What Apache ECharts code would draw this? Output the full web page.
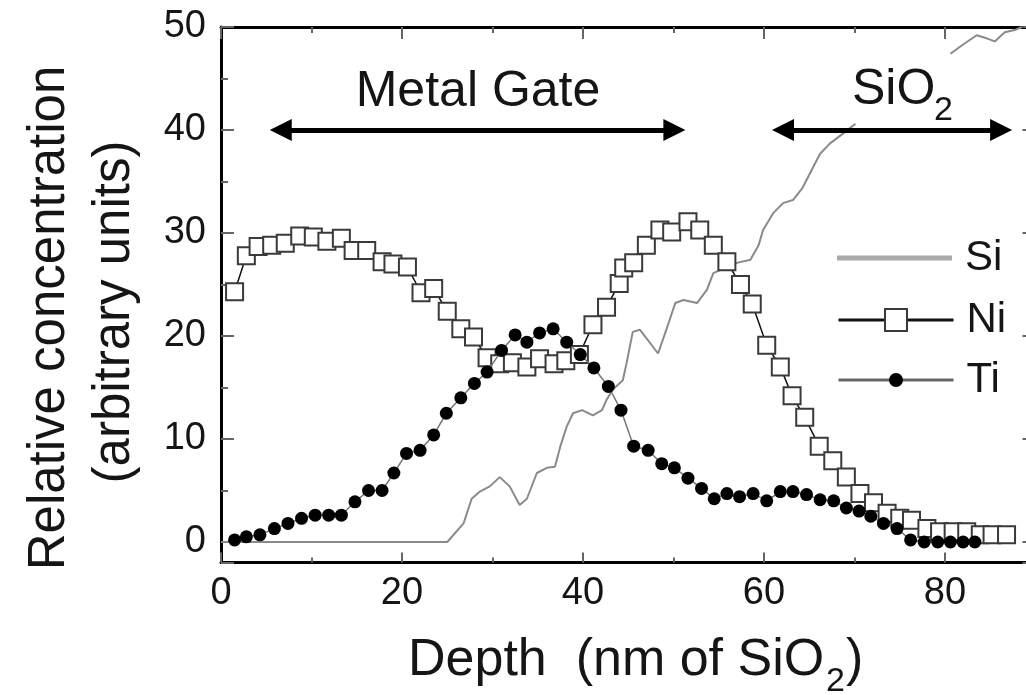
<!DOCTYPE html>
<html>
<head>
<meta charset="utf-8">
<title>Depth profile: Si, Ni, Ti</title>
<script src="https://cdn.jsdelivr.net/npm/echarts@6/dist/echarts.min.js"></script>
<style>
  html, body { margin: 0; padding: 0; background: #fff; }
  #chart { width: 1026px; height: 695px; }
</style>
</head>
<body>
<div id="chart"></div>
<script>
// Depth (nm of SiO2) and relative concentration for each element.
// Si is a continuous trace; the null entry leaves a break where the SiO2 label sits.
const siDepth = [0, 25.0, 26.8, 27.7, 28.6, 29.7, 30.8, 31.9, 33.0, 33.8, 34.9, 36.0, 36.9, 37.5, 38.2, 38.9,
  39.9, 41.1, 42.1, 42.6, 43.3, 44.4, 44.8, 45.5, 46.3, 48.3, 49.2, 50.2, 51.1, 52.6, 53.7, 54.4, 57.0,
  58.5, 59.4, 59.9, 61.0, 62.1, 63.2, 64.2, 65.2, 66.2, 67.3, 68.8, 70.1, 75.0, 80.6, 82.0, 83.5, 84.6,
  85.5, 86.6, 87.7, 88.5];
const siConc = [0, 0, 1.8, 4.2, 4.9, 5.4, 6.3, 5.4, 3.6, 4.2, 6.7, 7.2, 7.3, 9.3, 11.2, 12.5,
  12.8, 12.3, 12.8, 13.8, 14.8, 15.7, 17.3, 20.4, 20.6, 18.3, 20.6, 23.2, 23.5, 23.2, 24.5, 26.1, 27.1,
  27.4, 28.8, 30.3, 31.9, 32.9, 33.2, 34.3, 36.0, 37.7, 38.7, 39.7, 40.6, null, 47.4, 48.3, 49.2, 48.9,
  48.6, 49.5, 49.7, 50.0];

const niDepth = [1.5, 2.8, 4.1, 5.6, 7.1, 8.7, 10.2, 11.7, 13.3, 14.6, 16.1, 17.8, 19.0, 20.6, 22.1, 23.5,
  25.0, 26.5, 27.9, 29.4, 30.8, 32.2, 33.8, 35.2, 36.8, 38.1, 39.6, 41.1, 42.6, 44.0, 44.5, 45.6, 47.0,
  48.5, 49.8, 51.6, 52.9, 54.4, 55.9, 57.4, 58.7, 60.3, 61.8, 63.1, 64.5, 66.1, 67.6, 69.1, 70.6, 72.1,
  73.6, 75.0, 76.3, 78.0, 79.4, 80.9, 82.4, 83.9, 85.2, 86.8];
const niConc = [24.3, 27.8, 28.7, 28.8, 29.0, 29.7, 29.6, 29.2, 29.5, 28.3, 28.3, 27.2, 27.0, 26.7, 24.2, 24.6,
  22.4, 20.7, 19.9, 17.9, 17.3, 17.4, 17.0, 17.8, 17.3, 17.6, 18.2, 21.1, 22.8, 25.1, 26.6, 27.1, 28.8,
  30.3, 30.1, 31.1, 30.3, 28.8, 27.2, 25.0, 23.1, 19.1, 17.0, 14.2, 12.1, 9.3, 7.9, 6.3, 4.7, 3.8,
  2.8, 2.3, 2.1, 1.3, 1.0, 1.0, 1.0, 0.7, 0.7, 0.7];

const tiDepth = [1.5, 2.8, 4.3, 5.9, 7.4, 8.9, 10.4, 11.9, 13.3, 14.8, 16.3, 17.8, 19.1, 20.5, 22.0, 23.5,
  24.9, 26.5, 28.0, 29.4, 31.0, 32.5, 33.8, 35.2, 36.7, 38.2, 39.7, 41.2, 42.8, 44.2, 45.6, 47.2, 48.7,
  50.1, 51.6, 53.1, 54.5, 55.9, 57.3, 58.8, 60.3, 61.8, 63.2, 64.7, 66.2, 67.7, 69.1, 70.5, 71.8, 73.2,
  74.7, 76.2, 77.7, 79.2, 80.6, 82.0, 83.3];
const tiConc = [0.2, 0.5, 0.7, 1.3, 1.8, 2.3, 2.6, 2.6, 2.6, 3.9, 5.0, 5.0, 6.7, 8.6, 8.9, 10.4,
  12.5, 14.0, 15.4, 16.5, 18.6, 20.1, 19.4, 20.3, 20.7, 19.4, 18.2, 16.9, 15.1, 12.8, 9.3, 8.9, 7.6,
  7.2, 6.2, 5.2, 4.2, 4.7, 4.4, 4.7, 4.0, 4.9, 4.9, 4.6, 4.1, 4.0, 3.3, 3.0, 2.5, 1.8,
  1.3, 0.2, 0.0, 0.0, 0.0, 0.0, 0.0];

// Layer extents shown by the double-headed arrows (depth at the centre of each head) and their level.
const metalGateSpan = [6.6, 50.1];
const sio2Span = [62.1, 86.2];
const arrowLevel = 40;

// Axis ranges and label steps.
const xRange = [0, 90];
const yRange = [-2, 50];
const xLabelStep = 20, xMinorStep = 10;
const yLabelStep = 10, yMinorStep = 5;

const FONT = '"Liberation Sans", Arial, Helvetica, sans-serif';
const INK = '#151515';

const pairs = (xs, ys) => xs.map((x, i) => [x, ys[i]]);

function xAxisDef(position, step, tickLen, showLabels, showLine) {
  return {
    type: 'value', position, min: xRange[0], max: xRange[1], interval: step,
    axisLine: { show: showLine, onZero: false, lineStyle: { color: '#000', width: 3 } },
    axisTick: { show: true, inside: true, length: tickLen, lineStyle: { color: '#666', width: 2 } },
    axisLabel: {
      show: showLabels, margin: 12, color: INK, fontSize: 38, fontFamily: FONT,
      formatter: v => (v % xLabelStep === 0 && v < xRange[1]) ? String(v) : ''
    },
    splitLine: { show: false }
  };
}

function yAxisDef(position, step, tickLen, showLabels, showLine) {
  return {
    type: 'value', position, min: yRange[0], max: yRange[1],
    minInterval: step, maxInterval: step, splitNumber: Math.round((yRange[1] - yRange[0]) / step),
    axisLine: { show: showLine, onZero: false, lineStyle: { color: '#000', width: 3 } },
    axisTick: { show: true, inside: true, length: tickLen, lineStyle: { color: '#666', width: 2 } },
    axisLabel: {
      show: showLabels, margin: 15, color: INK, fontSize: 38, fontFamily: FONT,
      formatter: v => (v >= 0 && v % yLabelStep === 0) ? String(v) : ''
    },
    splitLine: { show: false }
  };
}

const legendText = { color: INK, fontSize: 42, fontFamily: FONT, lineHeight: 50, padding: [0, 0, 0, 8] };

const option = {
  animation: false,
  backgroundColor: '#fff',
  grid: { left: 221, top: 27, width: 814.5, height: 535.6, containLabel: false, outerBoundsMode: 'none' },
  xAxis: [
    xAxisDef('bottom', xLabelStep, 10, true, true),
    xAxisDef('bottom', xMinorStep, 5, false, false),
    xAxisDef('top', xLabelStep, 12, false, true),
    xAxisDef('top', xMinorStep, 6, false, false)
  ],
  yAxis: [
    yAxisDef('left', yLabelStep, 13, true, true),
    yAxisDef('left', yMinorStep, 7, false, false),
    yAxisDef('right', yLabelStep, 13, false, true),
    yAxisDef('right', yMinorStep, 7, false, false)
  ],
  legend: [
    {
      data: [{ name: 'Si', icon: 'path://M0,0H115V5H0Z' }],
      left: 837, top: 233, padding: 0, orient: 'vertical', selectedMode: false,
      itemWidth: 115, itemHeight: 8, itemStyle: { color: '#aaa' }, textStyle: legendText
    },
    {
      data: ['Ni'], left: 837, top: 295, padding: 0, orient: 'vertical', selectedMode: false,
      itemWidth: 115, itemHeight: 27.5, lineStyle: { width: 3, color: '#111' }, textStyle: legendText
    },
    {
      data: ['Ti'], left: 837, top: 355, padding: 0, orient: 'vertical', selectedMode: false,
      itemWidth: 115, itemHeight: 17.5, lineStyle: { width: 3, color: '#666' }, textStyle: legendText
    }
  ],
  series: [
    {
      name: 'Si', type: 'line', z: 2, symbol: 'none', connectNulls: false,
      color: '#8a8a8a',
      lineStyle: { color: '#8a8a8a', width: 2 },
      data: pairs(siDepth, siConc),
      markLine: {
        silent: true, z: 6,
        symbol: ['triangle', 'triangle'],
        symbolSize: 22,
        label: { show: false },
        itemStyle: { color: '#000' },
        lineStyle: { color: '#000', width: 5, type: 'solid', opacity: 1 },
        emphasis: { disabled: true },
        data: [
          [{ coord: [metalGateSpan[0], arrowLevel] }, { coord: [metalGateSpan[1], arrowLevel] }],
          [{ coord: [sio2Span[0], arrowLevel] }, { coord: [sio2Span[1], arrowLevel] }]
        ]
      }
    },
    {
      name: 'Ni', type: 'line', z: 3,
      symbol: 'rect', symbolSize: 17, showSymbol: true,
      itemStyle: { color: '#fff', borderColor: '#3a3a3a', borderWidth: 2 },
      lineStyle: { color: '#111', width: 1.5 },
      data: pairs(niDepth, niConc)
    },
    {
      name: 'Ti', type: 'line', z: 4,
      symbol: 'circle', symbolSize: 13, showSymbol: true,
      itemStyle: { color: '#000' },
      lineStyle: { color: '#777', width: 1.5 },
      data: pairs(tiDepth, tiConc)
    }
  ],
  graphic: [
    {
      type: 'text', x: 50, y: 318, rotation: Math.PI / 2, z: 10,
      style: { text: 'Relative concentration', fontSize: 51, fontFamily: FONT, fill: INK, align: 'center', verticalAlign: 'middle' }
    },
    {
      type: 'text', x: 115, y: 312, rotation: Math.PI / 2, z: 10,
      style: { text: '(arbitrary units)', fontSize: 51, fontFamily: FONT, fill: INK, align: 'center', verticalAlign: 'middle' }
    },
    {
      type: 'text', x: 408, y: 661, z: 10,
      style: { text: 'Depth  (nm of SiO', fontSize: 52, fontFamily: FONT, fill: INK, align: 'left', verticalAlign: 'middle' }
    },
    {
      type: 'text', x: 826, y: 682, z: 10,
      style: { text: '2', fontSize: 34, fontFamily: FONT, fill: INK, align: 'left', verticalAlign: 'middle' }
    },
    {
      type: 'text', x: 846, y: 661, z: 10,
      style: { text: ')', fontSize: 52, fontFamily: FONT, fill: INK, align: 'left', verticalAlign: 'middle' }
    },
    {
      type: 'text', x: 478, y: 92, z: 10,
      style: { text: 'Metal Gate', fontSize: 50, fontFamily: FONT, fill: INK, align: 'center', verticalAlign: 'middle' }
    },
    {
      type: 'text', x: 852, y: 90, z: 10,
      style: { text: 'SiO', fontSize: 50, fontFamily: FONT, fill: INK, align: 'left', verticalAlign: 'middle' }
    },
    {
      type: 'text', x: 934, y: 111, z: 10,
      style: { text: '2', fontSize: 34, fontFamily: FONT, fill: INK, align: 'left', verticalAlign: 'middle' }
    }
  ]
};

const chart = echarts.init(document.getElementById('chart'), null, { renderer: 'canvas' });
chart.setOption(option);
</script>
</body>
</html>
